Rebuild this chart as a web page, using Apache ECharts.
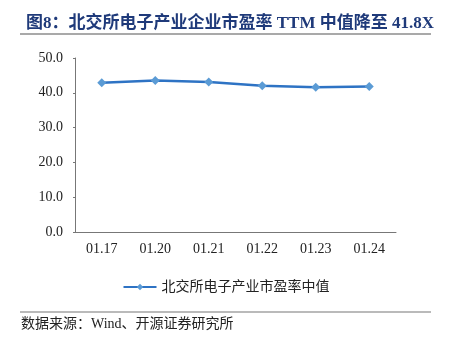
<!DOCTYPE html>
<html>
<head>
<meta charset="utf-8">
<script src="https://cdn.jsdelivr.net/npm/echarts@6/dist/echarts.min.js"></script>
<style>
  html, body { margin: 0; padding: 0; background: #fff; }
  #chart { width: 452px; height: 348px; }
</style>
</head>
<body>
<div id="chart"></div>
<script>
// Median TTM P/E of BSE-listed electronics companies
const titleText = '图8：北交所电子产业企业市盈率 TTM 中值降至 41.8X';
const sourceText = '数据来源：Wind、开源证券研究所';
const seriesName = '北交所电子产业市盈率中值';
const categories = ['01.17', '01.20', '01.21', '01.22', '01.23', '01.24'];
const peMedian = [42.9, 43.5, 43.1, 42.0, 41.6, 41.8];
const yTicks = { min: 0, max: 50, interval: 10 };

const serif = '"Times New Roman", "Liberation Serif", "Noto Sans CJK SC", serif';
const chart = echarts.init(document.getElementById('chart'), null, { renderer: 'canvas' });

chart.setOption({
  animation: false,
  backgroundColor: '#ffffff',
  title: {
    text: titleText,
    left: 21,
    top: 10,
    textStyle: { fontFamily: serif, fontSize: 17, fontWeight: 'bold', color: '#1F3A7A' }
  },
  graphic: [
    { type: 'line', shape: { x1: 20, y1: 34, x2: 431, y2: 34 }, style: { stroke: '#555', lineWidth: 1.2 } },
    { type: 'line', shape: { x1: 20, y1: 312, x2: 431, y2: 312 }, style: { stroke: '#777', lineWidth: 1.2 } },
    { type: 'text', left: 21, top: 317, style: { text: sourceText, font: '14px ' + serif, fill: '#222' } }
  ],
  legend: {
    top: 275,
    left: 'center',
    itemWidth: 33,
    itemHeight: 8,
    itemGap: 6,
    textStyle: { fontFamily: serif, fontSize: 14, color: '#222' },
    data: [{ name: seriesName }]
  },
  grid: { left: 75, right: 56, top: 58, bottom: 116, containLabel: false },
  xAxis: {
    type: 'category',
    data: categories,
    boundaryGap: true,
    axisLine: { lineStyle: { color: '#777', width: 1 } },
    axisTick: { inside: true, length: 4, lineStyle: { color: '#777' } },
    axisLabel: { fontFamily: serif, fontSize: 14, color: '#222', margin: 10 }
  },
  yAxis: {
    type: 'value',
    min: yTicks.min,
    max: yTicks.max,
    interval: yTicks.interval,
    axisLine: { show: true, lineStyle: { color: '#777', width: 1 } },
    axisTick: { show: true, length: 2, lineStyle: { color: '#777' } },
    splitLine: { show: false },
    axisLabel: {
      fontFamily: serif, fontSize: 14, color: '#222', margin: 12,
      formatter: v => v.toFixed(1)
    }
  },
  series: [{
    name: seriesName,
    type: 'line',
    data: peMedian,
    symbol: 'diamond',
    symbolSize: 9,
    lineStyle: { color: '#2E73C4', width: 2.5 },
    itemStyle: { color: '#5B9BD5' }
  }]
});
</script>
</body>
</html>
